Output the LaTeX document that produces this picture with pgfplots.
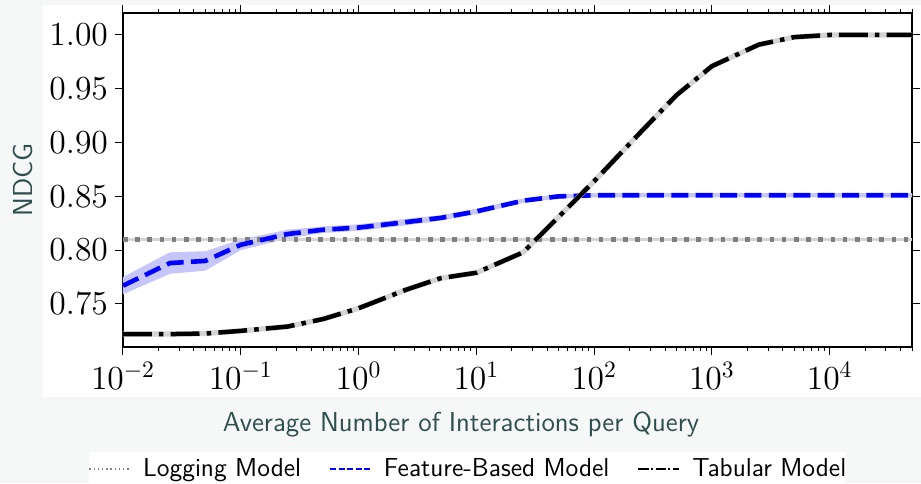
\RequirePackage{fix-cm}
\documentclass[border=0pt]{standalone}
\usepackage{pgfplots}
\usepackage{pgfplotstable}
\pgfplotsset{compat=1.18}

\definecolor{pagebg}{HTML}{F6F7F7}
\definecolor{labelcol}{HTML}{2F4F4F}
\definecolor{bandblue}{HTML}{C6C6FA}
\definecolor{halogray}{HTML}{D4D4D4}
\definecolor{loggray}{HTML}{808080}

% Feature-based model: mean NDCG
\pgfplotstableread{
x      mean
0.01   0.767
0.025  0.788
0.05   0.790
0.1    0.805
0.25   0.815
0.5    0.819
1      0.821
2.5    0.826
5      0.830
10     0.836
25     0.846
50     0.850
100    0.851
250    0.851
500    0.851
1000   0.851
2500   0.851
5000   0.851
10000  0.851
25000  0.851
50000  0.851
}\featdata

% Feature-based model: spread band (upper edge, then lower edge back)
\pgfplotstableread{
x      y
0.01   0.775
0.025  0.798
0.05   0.799
0.1    0.810
0.25   0.819
0.5    0.822
1      0.824
2.5    0.829
5      0.8325
10     0.8385
25     0.848
50     0.852
100    0.853
50000  0.853
50000  0.849
100    0.849
50     0.848
25     0.844
10     0.8335
5      0.8275
2.5    0.823
1      0.818
0.5    0.816
0.25   0.811
0.1    0.800
0.05   0.781
0.025  0.778
0.01   0.759
}\featband

% Tabular model
\pgfplotstableread{
x      mean
0.01   0.722
0.025  0.722
0.05   0.7225
0.1    0.725
0.25   0.729
0.5    0.736
1      0.746
2.5    0.763
5      0.774
10     0.779
25     0.798
50     0.831
100    0.864
250    0.910
500    0.944
1000   0.971
2500   0.991
5000   0.998
10000  1.000
25000  1.000
50000  1.000
}\tabdata

% Logging model (constant)
\pgfplotstableread{
x      mean
0.01   0.810
50000  0.810
}\logdata

\begin{document}
\begin{tikzpicture}
\fill[pagebg] (-61.5pt,-68pt) rectangle (399pt,173.5pt);
\fill[white] (-40pt,-25pt) rectangle (399pt,171pt);
\begin{axis}[
  scale only axis, width=394.5pt, height=167pt,
  at={(0,0)}, anchor=south west,
  xmode=log, xmin=0.01, xmax=5e4,
  ymin=0.71, ymax=1.0204,
  ytick={0.75,0.80,0.85,0.90,0.95,1.00},
  yticklabel style={/pgf/number format/.cd, fixed, fixed zerofill, precision=2},
  tick align=outside, xtick pos=both, ytick pos=both,
  major tick length=4pt, minor tick length=2pt,
  every tick/.style={black, line width=0.5pt},
  axis line style={line width=0.8pt},
  tick label style={font=\fontsize{16.8}{20}\selectfont},
  label style={font=\sffamily\fontsize{13.7}{16}\selectfont, text=labelcol},
  xlabel={Average Number of Interactions per Query},
  ylabel={NDCG},
  xlabel style={at={(axis description cs:0.4284,-0.2335)}, anchor=center},
  ylabel style={at={(axis description cs:-0.1267,0.5)}, anchor=center},
  legend style={at={(axis description cs:0.4366,-0.3653)}, anchor=center,
    legend columns=3, draw=none, fill=white, inner xsep=0pt, inner ysep=3pt,
    font=\sffamily\fontsize{13.0}{16}\selectfont,
    nodes={inner sep=0pt},
    /tikz/every odd column/.append style={column sep=6pt},
    /tikz/every even column/.append style={column sep=14pt}},
  legend cell align=left,
  legend image code/.code={\draw[#1] (0pt,0pt) -- (20.5pt,0pt);},
]
% spread band of the feature-based model
\addplot[fill=bandblue, draw=none, forget plot] table[x=x, y=y] {\featband} -- cycle;

% logging model
\addplot[halogray, line width=1.2pt, forget plot] table[x=x, y=mean] {\logdata};
\addplot[loggray, line width=2.3pt, dash pattern=on 2.3pt off 3.8pt, forget plot] table[x=x, y=mean] {\logdata};

% feature-based model
\addplot[blue, line width=2.3pt, dash pattern=on 8.5pt off 3.7pt, forget plot] table[x=x, y=mean] {\featdata};

% tabular model
\addplot[halogray, line width=2.6pt, forget plot] table[x=x, y=mean] {\tabdata};
\addplot[black, line width=2.25pt, dash pattern=on 14.4pt off 3.6pt on 2.25pt off 3.6pt, forget plot] table[x=x, y=mean] {\tabdata};

\addlegendimage{loggray, line width=0.7pt, dash pattern=on 0.7pt off 1.4pt}
\addlegendentry{Logging Model}
\addlegendimage{blue, line width=0.9pt, dash pattern=on 3pt off 1.3pt}
\addlegendentry{Feature-Based Model}
\addlegendimage{black, line width=0.9pt, dash pattern=on 5.1pt off 1.3pt on 0.9pt off 1.3pt}
\addlegendentry{Tabular Model}
\end{axis}
\pgfresetboundingbox
\path[use as bounding box] (-61.5pt,-68pt) rectangle (399pt,173.5pt);
\end{tikzpicture}
\end{document}
